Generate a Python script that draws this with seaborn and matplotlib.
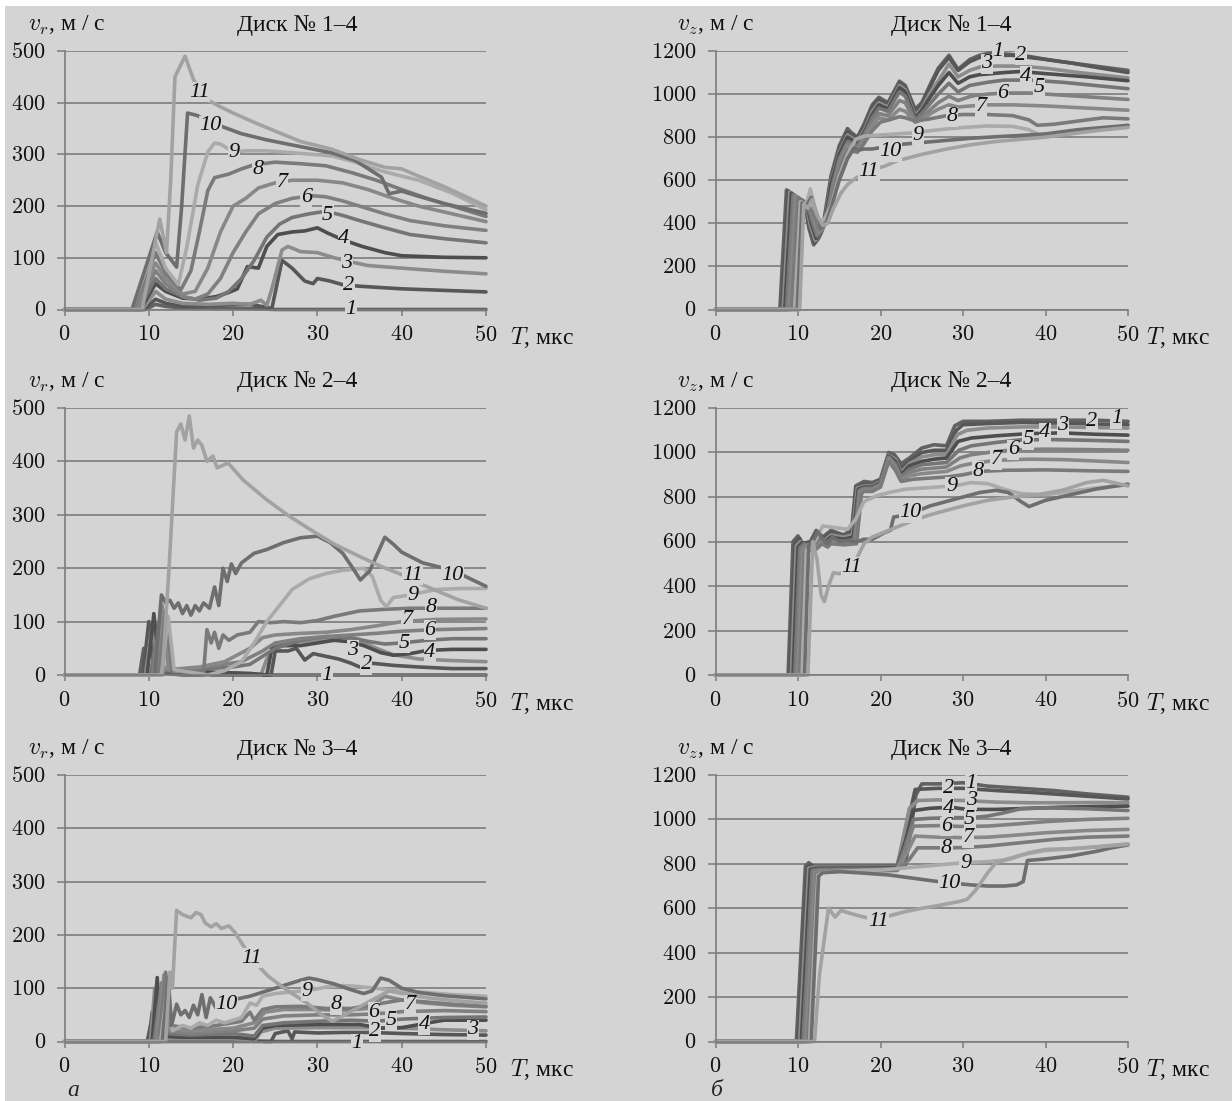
import pandas as pd
import seaborn as sns
import matplotlib
matplotlib.use('Agg')
import matplotlib.pyplot as plt
from matplotlib.patches import Rectangle
from matplotlib.ticker import FuncFormatter, MultipleLocator

sns.set_theme(style='white')
plt.rcParams['font.family'] = ['Liberation Serif', 'DejaVu Serif']
plt.rcParams['mathtext.fontset'] = 'cm'

#------------------------------------------------------------------------------
# Data: curve number -> (T, mks ; v, m/s) points
#------------------------------------------------------------------------------
# a) radial velocity, disk 1-4
vr_disk1 = {
    1: [(0, 0), (9.6, 0), (10.8, 10), (12, 6), (14, 3), (18, 2), (22, 2), (25, 0), (50, 0)],
    2: [(0, 0), (9.4, 0), (10.8, 20), (12, 12), (14, 6), (18, 8), (22, 10), (24, 4), (24.6, 2), (25.8, 95), (27, 80),
        (28.5, 55), (29.5, 50), (30, 60), (31.5, 55), (33, 48), (35, 45), (40, 40), (45, 37), (50, 34)],
    3: [(0, 0), (9.2, 0), (10.8, 35), (12, 20), (14, 12), (17, 10), (20, 12), (22, 10), (23.3, 18), (24, 8), (24.6, 40),
        (25.8, 115), (26.5, 122), (28, 112), (30, 110), (32, 100), (34, 92), (36, 85), (40, 80), (45, 74), (50, 69)],
    4: [(0, 0), (9.0, 0), (10.8, 50), (12, 35), (14, 22), (16, 20), (18, 25), (19.5, 33), (20.5, 40), (21.7, 83),
        (23, 80), (24, 122), (25.3, 145), (27, 150), (28.5, 152), (30, 158), (31.2, 148), (33, 135), (35.3, 122),
        (38, 110), (40, 104), (45, 101), (50, 100)],
    5: [(0, 0), (8.8, 0), (10.8, 60), (12, 40), (14, 25), (16, 18), (18, 22), (19.5, 35), (21, 60), (22.5, 95),
        (24, 140), (25.5, 165), (27, 178), (29, 185), (31, 190), (33, 182), (35, 172), (38, 158), (41, 145),
        (45, 137), (50, 129)],
    6: [(0, 0), (8.6, 0), (10.8, 75), (12, 50), (14, 25), (15.5, 20), (17, 30), (18.5, 60), (20, 110), (21.5, 150),
        (23, 185), (25, 205), (27, 215), (29.4, 220), (31, 218), (33, 210), (35, 200), (38, 185), (41, 172),
        (45, 162), (50, 153)],
    7: [(0, 0), (8.4, 0), (10.8, 90), (12, 60), (14, 30), (15.5, 35), (17, 80), (18.5, 150), (20, 200), (21.5, 215),
        (23, 235), (25, 245), (27, 250), (30, 250), (33, 245), (36, 232), (39, 215), (42, 200), (46, 185), (50, 170)],
    8: [(0, 0), (8.2, 0), (10.8, 110), (12, 70), (13.8, 38), (15, 75), (16, 150), (17, 230), (17.8, 255), (19.5, 262),
        (21, 272), (22.5, 280), (25, 285), (28, 282), (31, 278), (34, 265), (37, 250), (40, 232), (43, 215),
        (46, 200), (50, 180)],
    9: [(0, 0), (8.0, 0), (10.8, 130), (12, 80), (13.5, 48), (14.5, 120), (15.8, 240), (17, 305), (17.8, 322),
        (18.5, 320), (20, 305), (21.7, 307), (24, 307), (28, 302), (31.7, 297), (34.5, 285), (37.6, 268), (40, 258),
        (42, 250), (46, 225), (50, 193)],
    10: [(0, 0), (8.0, 0), (11, 150), (12, 110), (13.3, 82), (13.9, 200), (14.6, 380), (15.8, 375), (17, 362),
         (18.5, 355), (21, 340), (24, 328), (28, 315), (31.7, 303), (34.5, 288), (37.6, 256), (38.5, 224), (40, 229),
         (42, 219), (45, 205), (50, 186)],
    11: [(0, 0), (9.2, 0), (11.3, 175), (12.1, 110), (12.6, 250), (13.1, 450), (14.3, 490), (15.3, 445), (16, 425),
         (17, 405), (18.5, 392), (20, 380), (22.5, 362), (25, 345), (28, 325), (31.7, 310), (35, 290), (38, 275),
         (40, 272), (42, 258), (45, 238), (50, 200)],
}

# b) axial velocity, disk 1-4
vz_disk1 = {
    1: [(0, 0), (7.8, 0), (8.6, 555), (10, 520), (10.8, 500), (11.3, 380), (11.9, 300), (12.5, 330), (13, 380),
        (14, 620), (15, 760), (16, 840), (16.5, 820), (17.2, 800), (18, 860), (19, 950), (19.8, 985), (20.9, 960),
        (22.3, 1060), (23, 1040), (24.2, 930), (25, 960), (26.1, 1050), (27, 1120), (28.3, 1180), (29.4, 1115),
        (30.8, 1160), (32, 1180), (33.2, 1190), (35.5, 1185), (38, 1175), (40.2, 1160), (42, 1150), (45, 1135),
        (50, 1110)],
    2: [(0, 0), (8.0, 0), (8.8, 550), (10, 515), (10.9, 495), (11.4, 380), (12, 310), (12.6, 340), (13.1, 390),
        (14, 600), (15, 740), (16, 825), (16.5, 810), (17.2, 790), (18, 850), (19, 940), (19.8, 975), (20.9, 950),
        (22.3, 1050), (23, 1030), (24.2, 920), (25, 950), (26.1, 1040), (27, 1110), (28.3, 1170), (29.4, 1110),
        (30.8, 1150), (32, 1170), (34, 1180), (36, 1180), (38, 1170), (40.2, 1160), (43, 1145), (46, 1125),
        (50, 1100)],
    3: [(0, 0), (8.2, 0), (9.0, 545), (10, 510), (11, 490), (11.5, 390), (12.1, 320), (12.7, 350), (13.2, 400),
        (14, 590), (15, 730), (16, 810), (17.2, 780), (18, 830), (19, 920), (19.8, 960), (20.9, 940), (22.3, 1040),
        (23, 1020), (24.2, 900), (25, 935), (26.1, 1010), (27, 1060), (28.3, 1140), (29.4, 1080), (30.8, 1110),
        (32, 1125), (34, 1130), (37, 1130), (40, 1120), (44, 1100), (50, 1075)],
    4: [(0, 0), (8.4, 0), (9.2, 540), (10.2, 505), (11.1, 485), (11.6, 400), (12.2, 330), (12.8, 355), (13.3, 410),
        (14, 580), (15, 720), (16, 800), (17.2, 770), (18, 820), (19, 905), (19.8, 950), (20.9, 930), (22.3, 1030),
        (23, 1010), (24.2, 890), (25, 925), (26.1, 990), (27, 1040), (28.3, 1100), (29.4, 1050), (30.8, 1080),
        (32, 1090), (35, 1100), (37, 1105), (40, 1095), (45, 1080), (50, 1062)],
    5: [(0, 0), (8.6, 0), (9.4, 535), (10.3, 500), (11.2, 480), (11.7, 410), (12.3, 340), (12.9, 365), (13.4, 420),
        (14.2, 580), (15, 700), (16, 780), (17.2, 760), (18, 810), (19, 890), (19.8, 935), (20.9, 920), (22.3, 1010),
        (23, 990), (24.2, 880), (25, 910), (26.1, 960), (27, 1000), (28.3, 1050), (29.4, 1010), (30.8, 1040),
        (33, 1055), (35, 1065), (38, 1065), (42, 1055), (46, 1040), (50, 1025)],
    6: [(0, 0), (8.8, 0), (9.6, 530), (10.4, 500), (11.3, 480), (11.8, 420), (12.4, 350), (13, 375), (13.5, 430),
        (14.3, 580), (15, 690), (16, 770), (17.2, 750), (18, 800), (19, 870), (19.8, 910), (20.9, 900), (22.3, 970),
        (23, 960), (24.2, 870), (25, 890), (26.1, 930), (27, 960), (28.3, 990), (29.4, 970), (31, 990), (33, 1000),
        (35, 1005), (38, 1005), (42, 995), (46, 985), (50, 975)],
    7: [(0, 0), (9.0, 0), (9.8, 525), (10.5, 500), (11.4, 475), (11.9, 425), (12.5, 360), (13.1, 385), (13.6, 440),
        (14.4, 580), (15.2, 690), (16, 760), (17.2, 740), (18, 790), (19, 850), (19.8, 890), (20.9, 880), (22.3, 930),
        (23, 920), (24.2, 870), (25, 880), (26.1, 910), (27, 930), (28.3, 950), (29.4, 940), (31, 945), (33, 950),
        (36, 950), (40, 945), (45, 935), (50, 925)],
    8: [(0, 0), (9.2, 0), (10, 520), (10.6, 500), (11.5, 470), (12, 430), (12.6, 370), (13.2, 395), (13.7, 450),
        (14.5, 580), (15.3, 680), (16, 740), (17.2, 730), (18, 770), (19, 830), (20, 870), (21, 880), (22.3, 895),
        (23, 890), (24.2, 875), (26, 885), (28, 900), (30, 905), (33, 905), (36, 900), (38, 880), (39, 855),
        (41, 860), (44, 875), (47, 890), (50, 885)],
    9: [(0, 0), (9.6, 0), (10.3, 500), (11, 490), (11.5, 560), (12, 480), (12.6, 400), (13.2, 420), (14, 480),
        (15, 620), (16, 720), (17, 790), (18, 805), (20, 810), (22, 815), (24, 820), (26, 830), (28, 838), (30, 845),
        (33, 852), (36, 850), (38, 835), (39.5, 805), (42, 815), (46, 830), (50, 855)],
    10: [(0, 0), (9.9, 0), (10.5, 495), (11, 480), (11.6, 520), (12.2, 450), (12.8, 380), (13.4, 400), (14, 470),
         (15, 600), (16, 700), (16.8, 750), (17.3, 740), (18, 745), (19, 745), (20.5, 755), (22, 765), (25, 775),
         (28, 785), (31, 795), (34, 802), (37, 808), (40, 815), (44, 835), (47, 845), (50, 855)],
    11: [(0, 0), (10.2, 0), (10.7, 490), (11.2, 470), (11.7, 510), (12.3, 440), (13, 390), (13.6, 400), (14.3, 470),
         (15.2, 540), (16, 580), (17, 610), (18, 630), (19, 650), (20.5, 665), (22, 690), (25, 720), (28, 745),
         (31, 765), (34, 780), (37, 790), (40, 800), (43, 815), (46, 830), (50, 845)],
}

# a) radial velocity, disk 2-4
vr_disk2 = {
    1: [(0, 0), (8.9, 0), (9.4, 50), (9.9, 5), (12, 3), (14, 0), (50, 0)],
    2: [(0, 0), (9.3, 0), (10, 100), (10.6, 10), (13, 10), (16, 5), (20, 3), (24.5, 0), (25, 45), (26.5, 45),
        (27.5, 50), (28.5, 28), (29.5, 40), (31, 35), (32.5, 30), (34, 22), (35, 15), (36.5, 22), (39, 18), (42, 15),
        (46, 12), (50, 12)],
    3: [(0, 0), (9.6, 0), (10.4, 90), (11, 15), (13, 10), (16, 5), (20, 3), (23.3, 0), (24, 30), (25, 58), (28, 62),
        (31, 68), (33, 70), (35, 65), (37, 50), (39, 38), (42, 30), (46, 27), (50, 25)],
    4: [(0, 0), (9.8, 0), (10.6, 115), (11.3, 10), (14, 8), (18, 5), (22, 3), (24, 0), (24.6, 50), (26, 55), (28, 55),
        (30, 60), (32, 65), (34, 62), (35.5, 55), (37.5, 42), (39, 37), (41, 40), (43, 46), (46, 48), (50, 48)],
    5: [(0, 0), (10.2, 0), (10.8, 60), (11.4, 8), (15, 10), (20, 15), (22, 20), (23.5, 35), (25, 50), (28, 65),
        (31, 72), (34, 70), (36, 63), (38, 58), (40, 60), (43, 65), (46, 68), (50, 68)],
    6: [(0, 0), (10.5, 0), (11.2, 95), (11.8, 10), (15, 12), (18, 18), (21, 25), (23.5, 45), (25, 60), (28, 68),
        (31, 72), (34, 75), (37, 78), (40, 82), (44, 85), (50, 87)],
    7: [(0, 0), (10.8, 0), (11.6, 130), (12.3, 10), (16, 15), (19, 25), (22, 50), (23.5, 70), (25, 75), (28, 78),
        (31, 80), (34, 85), (37, 92), (40, 100), (44, 104), (50, 105)],
    8: [(0, 0), (11.2, 0), (12, 120), (12.7, 10), (16.5, 5), (16.9, 85), (17.4, 60), (17.8, 80), (18.3, 50),
        (18.8, 75), (19.5, 65), (20.5, 75), (22, 80), (23, 100), (24.5, 98), (26, 100), (28, 98), (30, 102),
        (32, 110), (35, 120), (38, 123), (41, 125), (45, 125), (50, 125)],
    9: [(0, 0), (11.5, 0), (12.3, 110), (13, 10), (17, 0), (19, 8), (21, 25), (22.5, 60), (24, 100), (25.5, 130),
        (27, 160), (29, 180), (31, 190), (33, 196), (35.5, 200), (36.5, 185), (37.5, 140), (38.2, 128), (39, 145),
        (41, 150), (44, 160), (47, 162), (50, 162)],
    10: [(0, 0), (10.7, 0), (11.5, 150), (12, 135), (12.5, 140), (13, 125), (13.5, 135), (14, 115), (14.5, 130),
         (15, 112), (15.5, 130), (16, 120), (16.5, 135), (17.2, 125), (17.8, 165), (18.3, 130), (18.8, 200),
         (19.3, 175), (19.8, 208), (20.3, 190), (21, 210), (22.5, 228), (24, 235), (26, 248), (28, 257), (30, 260),
         (31.5, 248), (33, 228), (34.2, 200), (35.1, 178), (36.2, 195), (38, 258), (39, 245), (40, 230),
         (42.5, 210), (45, 200), (47.5, 185), (50, 166)],
    11: [(0, 0), (11.6, 0), (12.4, 200), (13.3, 455), (13.8, 470), (14.3, 440), (14.8, 485), (15.3, 425),
         (15.8, 440), (16.3, 430), (16.9, 400), (17.6, 410), (18.1, 388), (19.4, 397), (21.2, 365), (24, 328),
         (26.7, 297), (29.4, 270), (32, 245), (35, 222), (37.6, 203), (40, 188), (42.6, 168), (46.7, 141),
         (50, 125)],
}

# b) axial velocity, disk 2-4
vz_disk2 = {
    1: [(0, 0), (8.8, 0), (9.4, 600), (10, 625), (10.4, 590), (11.5, 600), (12.2, 650), (13, 620), (14, 650),
        (15.5, 630), (16.5, 650), (17, 850), (18, 870), (19, 865), (20, 880), (21, 1000), (21.7, 990), (22.5, 950),
        (23.5, 975), (25, 1020), (26.5, 1035), (28, 1030), (29, 1120), (30, 1140), (33, 1140), (37, 1145),
        (42, 1145), (46, 1145), (50, 1140)],
    2: [(0, 0), (9.0, 0), (9.6, 590), (10.2, 615), (10.6, 585), (11.6, 595), (12.3, 640), (13, 610), (14, 640),
        (15.5, 625), (16.5, 640), (17.1, 845), (18, 860), (19, 855), (20, 875), (21, 995), (21.7, 980), (22.5, 930),
        (23.5, 960), (25, 1000), (26.5, 1010), (28, 1010), (29.2, 1100), (30, 1125), (33, 1130), (37, 1135),
        (42, 1132), (46, 1128), (50, 1125)],
    3: [(0, 0), (9.2, 0), (9.8, 580), (10.3, 600), (10.8, 580), (11.7, 590), (12.4, 630), (13.1, 600), (14, 630),
        (15.5, 620), (16.6, 630), (17.2, 840), (18, 850), (19, 850), (20, 870), (21, 990), (21.8, 970), (22.5, 910),
        (23.5, 950), (25, 980), (26.5, 990), (28, 990), (29.3, 1080), (30.5, 1100), (33, 1110), (37, 1115),
        (42, 1115), (46, 1112), (50, 1110)],
    4: [(0, 0), (9.4, 0), (10, 575), (10.5, 595), (11, 575), (11.8, 585), (12.5, 620), (13.2, 595), (14, 620),
        (15.5, 610), (16.7, 620), (17.3, 835), (18, 845), (19, 845), (20, 865), (21, 985), (21.8, 960), (22.5, 900),
        (23.5, 940), (25, 960), (26.5, 970), (28, 975), (29.4, 1050), (31, 1065), (34, 1075), (38, 1085),
        (42, 1088), (46, 1082), (50, 1078)],
    5: [(0, 0), (9.6, 0), (10.2, 570), (10.7, 590), (11.2, 570), (11.9, 580), (12.6, 610), (13.3, 590), (14, 610),
        (15.5, 600), (16.8, 610), (17.4, 830), (18, 840), (19, 840), (20, 860), (21, 980), (21.8, 950), (22.5, 890),
        (23.5, 925), (25, 945), (26.5, 950), (28, 955), (29.5, 1010), (31, 1030), (34, 1045), (37, 1057),
        (41, 1058), (45, 1055), (50, 1050)],
    6: [(0, 0), (9.8, 0), (10.4, 565), (10.9, 585), (11.4, 565), (12, 575), (12.7, 600), (13.4, 585), (14, 600),
        (15.5, 595), (16.9, 600), (17.5, 825), (18, 835), (19, 835), (20, 855), (21, 975), (21.8, 940), (22.5, 880),
        (23.5, 910), (25, 925), (26.5, 930), (28, 935), (29.6, 975), (31, 990), (33, 1000), (36, 1012), (40, 1015),
        (45, 1013), (50, 1010)],
    7: [(0, 0), (10.0, 0), (10.6, 560), (11.1, 580), (11.6, 560), (12.1, 570), (12.8, 595), (13.5, 580), (14, 595),
        (15.5, 590), (17.0, 595), (17.6, 820), (18, 830), (19, 830), (20, 850), (21, 970), (21.8, 930), (22.5, 875),
        (23.5, 895), (25, 905), (26.5, 910), (28, 915), (29.7, 940), (31, 950), (34, 965), (38, 970), (42, 968),
        (46, 962), (50, 955)],
    8: [(0, 0), (10.2, 0), (10.8, 555), (11.3, 575), (11.8, 555), (12.2, 565), (12.9, 590), (13.6, 575), (14, 590),
        (15.5, 585), (17.1, 590), (17.7, 815), (18, 825), (19, 825), (20, 845), (21, 960), (21.8, 920), (22.5, 870),
        (24, 880), (26, 885), (28, 890), (30, 900), (32, 915), (35, 920), (40, 922), (45, 918), (50, 915)],
    9: [(0, 0), (10.5, 0), (11, 560), (11.6, 580), (12.2, 610), (13, 670), (14, 665), (15, 660), (16, 655),
        (17, 700), (18, 780), (19.5, 805), (21, 820), (23, 835), (25, 840), (27, 845), (29, 850), (31, 865),
        (33, 860), (35, 835), (37, 815), (40, 810), (43, 825), (46, 840), (50, 855)],
    10: [(0, 0), (10.8, 0), (11.3, 580), (11.8, 600), (12.4, 645), (13, 610), (13.6, 590), (14.2, 620), (15, 600),
         (16, 605), (17, 598), (18, 610), (19, 610), (20.5, 640), (21.2, 650), (21.6, 710), (22.5, 715), (24, 730),
         (26, 760), (28, 780), (30, 800), (32, 820), (34, 830), (35.5, 820), (37, 780), (38, 757), (40, 785),
         (43, 810), (46, 835), (50, 858)],
    11: [(0, 0), (11.2, 0), (11.8, 600), (12.3, 520), (12.8, 360), (13.2, 330), (13.7, 400), (14.3, 460),
         (15, 455), (15.8, 470), (16.6, 480), (17.2, 530), (18, 590), (19, 620), (20, 635), (22, 665), (24, 695),
         (26, 720), (28, 740), (30, 760), (33, 785), (36, 800), (39, 810), (42, 830), (45, 865), (47, 875),
         (50, 850)],
}

# a) radial velocity, disk 3-4
vr_disk3 = {
    1: [(0, 0), (9.8, 0), (10.2, 30), (10.6, 0), (50, 0)],
    2: [(0, 0), (10.0, 0), (10.4, 55), (10.8, 5), (13, 3), (20, 2), (24.5, 0), (25, 15), (26.5, 20), (27, 5),
        (27.3, 18), (30, 16), (33, 17), (36, 17), (40, 15), (45, 13), (50, 12)],
    3: [(0, 0), (10.2, 0), (10.7, 100), (11.1, 5), (14, 5), (20, 5), (22.5, 0), (23.3, 18), (25, 25), (30, 26),
        (35, 26), (40, 25), (45, 22), (50, 20)],
    4: [(0, 0), (10.4, 0), (11.0, 120), (11.4, 10), (14, 8), (20, 8), (22.5, 5), (23.5, 25), (25, 30), (30, 32),
        (35, 32), (37.5, 25), (40, 26), (42.5, 33), (45, 40), (50, 40)],
    5: [(0, 0), (10.6, 0), (11.3, 80), (11.7, 15), (15, 12), (20, 15), (22.5, 10), (23.5, 30), (26, 35), (30, 38),
        (34, 40), (37, 38), (40, 42), (45, 45), (50, 46)],
    6: [(0, 0), (10.8, 0), (11.5, 110), (11.9, 20), (15, 15), (20, 20), (22.5, 25), (23.5, 42), (26, 48), (30, 50),
        (34, 50), (37, 52), (40, 56), (45, 58), (50, 56)],
    7: [(0, 0), (11.0, 0), (11.8, 125), (12.2, 25), (15, 20), (20, 25), (22.5, 35), (23.8, 55), (26, 60), (30, 60),
        (33, 58), (36, 62), (38, 85), (40, 78), (43, 72), (46, 68), (50, 65)],
    8: [(0, 0), (11.2, 0), (12.0, 130), (12.5, 30), (15, 25), (18, 30), (21, 38), (22, 55), (22.5, 40), (23.5, 60),
        (25, 65), (28, 66), (31, 62), (34, 62), (37, 70), (40, 78), (43, 74), (46, 70), (50, 66)],
    9: [(0, 0), (11.4, 0), (12.2, 100), (12.8, 20), (14, 30), (15, 25), (16, 35), (17, 30), (18, 40), (19, 35),
        (20, 40), (21, 45), (22, 72), (22.8, 68), (23.5, 85), (25, 90), (27, 93), (29, 96), (31, 102), (33, 105),
        (35, 103), (38, 98), (40, 95), (43, 92), (46, 88), (50, 85)],
    10: [(0, 0), (11.6, 0), (12.3, 120), (12.7, 30), (13.3, 70), (13.8, 50), (14.3, 58), (14.8, 45), (15.3, 68),
         (15.8, 50), (16.3, 88), (16.8, 45), (17.3, 82), (18, 62), (19.3, 72), (20.5, 80), (22, 85), (24, 95),
         (26, 105), (28, 115), (29, 119), (30, 116), (32, 108), (34, 97), (35.5, 90), (36.5, 95), (37.5, 119),
         (38.5, 115), (40, 100), (42, 92), (45, 86), (50, 80)],
    11: [(0, 0), (12.0, 0), (12.5, 130), (12.8, 100), (13.3, 246), (14, 238), (15, 232), (15.6, 242), (16.2, 238),
         (16.7, 222), (17.4, 215), (18, 221), (18.6, 212), (19.5, 217), (20.2, 205), (21, 185), (22.2, 155),
         (24.2, 122), (26.5, 95), (28.8, 72), (30.5, 50), (31.8, 38), (33, 48), (35, 65), (37, 82), (38.5, 95),
         (40, 90), (43, 82), (46, 77), (50, 72)],
}

# b) axial velocity, disk 3-4
vz_disk3 = {
    1: [(0, 0), (9.8, 0), (10.9, 790), (11.3, 805), (11.8, 790), (15, 790), (20, 790), (23, 790), (24.3, 1110),
        (25, 1160), (27, 1160), (30, 1165), (33, 1150), (37, 1140), (41, 1130), (45, 1115), (50, 1100)],
    2: [(0, 0), (10.0, 0), (11.1, 785), (11.6, 795), (12, 785), (22, 788), (23.4, 1000), (24.2, 1135), (27, 1140),
        (30, 1140), (34, 1130), (38, 1122), (42, 1112), (46, 1102), (50, 1092)],
    3: [(0, 0), (10.2, 0), (11.3, 780), (12, 785), (22, 785), (23.5, 1050), (24.5, 1085), (27, 1088), (30, 1085),
        (34, 1078), (38, 1075), (42, 1075), (46, 1076), (50, 1075)],
    4: [(0, 0), (10.4, 0), (11.5, 775), (12.2, 780), (22, 782), (23, 900), (24, 1040), (26, 1050), (28.5, 1055),
        (30.5, 1045), (34, 1045), (38, 1050), (42, 1055), (46, 1058), (50, 1060)],
    5: [(0, 0), (10.6, 0), (11.7, 770), (12.4, 775), (22, 778), (23, 880), (24, 1000), (26, 1005), (29, 1008),
        (31, 1008), (33, 1015), (35, 1030), (37, 1048), (40, 1052), (45, 1048), (50, 1040)],
    6: [(0, 0), (10.8, 0), (11.9, 765), (12.6, 770), (22, 775), (23, 860), (24, 970), (27, 972), (30, 968),
        (33, 970), (36, 978), (40, 990), (45, 1000), (50, 1005)],
    7: [(0, 0), (11.0, 0), (12.1, 760), (12.8, 768), (22, 772), (23.2, 850), (24.2, 925), (27, 920), (30, 918),
        (33, 920), (36, 928), (40, 940), (45, 950), (50, 955)],
    8: [(0, 0), (11.2, 0), (12.3, 755), (13, 765), (22, 770), (23.5, 820), (24.5, 872), (27, 872), (30, 873),
        (33, 880), (37, 895), (41, 910), (45, 920), (50, 925)],
    9: [(0, 0), (11.4, 0), (12.4, 750), (13, 762), (16, 768), (20, 772), (24, 785), (27, 795), (30, 805), (33, 810),
        (35, 818), (37, 840), (40, 860), (44, 870), (47, 880), (50, 890)],
    10: [(0, 0), (11.6, 0), (12.5, 745), (13, 760), (15, 765), (18, 758), (21, 750), (24, 735), (27, 720),
         (29, 712), (31, 705), (33, 700), (35, 700), (36.5, 705), (37.3, 720), (37.8, 815), (40, 822), (43, 835),
         (46, 855), (48, 872), (50, 885)],
    11: [(0, 0), (12.0, 0), (12.6, 300), (13.7, 600), (14.5, 560), (15.2, 590), (16.5, 575), (18, 560),
         (19.5, 550), (21, 565), (23, 585), (25, 600), (27, 612), (29.5, 630), (30.5, 640), (31.5, 680), (33, 760),
         (34, 805), (36, 825), (38, 850), (40, 865), (43, 868), (46, 875), (50, 888)],
}

# curve number labels (T, v) where the numbers sit
lab_vr1 = {1: (34, 0), 2: (33.7, 47), 3: (33.5, 89), 4: (33.1, 138), 5: (31.2, 182), 6: (28.7, 216),
           7: (25.8, 245), 8: (23, 271), 9: (20.1, 303), 10: (17.3, 355), 11: (16, 420)}
lab_vz1 = {1: (34.2, 1200), 2: (37.0, 1180), 3: (32.9, 1140), 4: (37.6, 1082), 5: (39.2, 1030), 6: (34.8, 1003),
           7: (32.2, 941), 8: (28.7, 895), 9: (24.5, 810), 10: (21.2, 732), 11: (18.6, 640)}
lab_vr2 = {1: (31.1, 0), 2: (35.8, 19), 3: (34.2, 46), 4: (43.3, 42), 5: (40.3, 59), 6: (43.3, 84),
           7: (40.6, 104), 8: (43.5, 127), 9: (41.3, 148), 10: (46, 187), 11: (41.3, 187)}
lab_vz2 = {1: (48.6, 1152), 2: (45.6, 1138), 3: (42.1, 1120), 4: (39.9, 1090), 5: (37.9, 1058), 6: (36.1, 1012),
           7: (34, 967), 8: (31.8, 915), 9: (28.6, 847), 10: (23.6, 730), 11: (16.5, 485)}
lab_vr3 = {1: (34.7, -4), 2: (36.8, 18), 3: (48.4, 22), 4: (42.7, 31), 5: (38.7, 40), 6: (36.7, 55),
           7: (41, 69), 8: (32.2, 69), 9: (28.8, 94), 10: (19.2, 70), 11: (22.2, 156)}
lab_vz3 = {1: (31, 1162), 2: (28.2, 1138), 3: (31, 1085), 4: (28.2, 1050), 5: (30.8, 1000), 6: (28, 968),
           7: (30.6, 918), 8: (28, 868), 9: (30.3, 802), 10: (28.4, 712), 11: (19.7, 541)}

#------------------------------------------------------------------------------
# Style
#------------------------------------------------------------------------------
BG = '#d4d4d4'
GRID = '#7c7c7c'
grays = {1: '#626262', 2: '#575757', 3: '#8c8c8c', 4: '#4e4e4e', 5: '#757575', 6: '#808080',
         7: '#888888', 8: '#7a7a7a', 9: '#aaaaaa', 10: '#6e6e6e', 11: '#a2a2a2'}

W, H = 1232, 1101
fig = plt.figure(figsize=(W / 100, H / 100), dpi=100, facecolor='white')
fig.patches.append(Rectangle((5 / W, 0), 1, 1 - 6 / H, transform=fig.transFigure,
                             fc=BG, ec='none', zorder=-10))

cols = [(64.5, 486), (715.5, 1128)]         # px left/right of the plot area
rows = [(51, 309.5), (408, 675), (775, 1041.5)]  # px top/bottom

panels = [
    (0, 0, vr_disk1, lab_vr1, 'r', 500, 100, '1'),
    (0, 1, vz_disk1, lab_vz1, 'z', 1200, 200, '1'),
    (1, 0, vr_disk2, lab_vr2, 'r', 500, 100, '2'),
    (1, 1, vz_disk2, lab_vz2, 'z', 1200, 200, '2'),
    (2, 0, vr_disk3, lab_vr3, 'r', 500, 100, '3'),
    (2, 1, vz_disk3, lab_vz3, 'z', 1200, 200, '3'),
]

title_x = [297, 951]
ylab_x = [28, 677]
xlab_x = [510, 1146]

for r, c, curves, labels, comp, ymax, ystep, disk in panels:
    x0, x1 = cols[c]
    y0, y1 = rows[r]
    wpx, hpx = x1 - x0, y1 - y0
    ax = fig.add_axes([x0 / W, 1 - y1 / H, wpx / W, hpx / H])
    ax.patch.set_alpha(0)

    df = pd.DataFrame([(k, t, v) for k, pts in curves.items() for t, v in pts],
                      columns=['curve', 't', 'v'])
    sns.lineplot(data=df, x='t', y='v', hue='curve', palette=grays, estimator=None,
                 sort=False, legend=False, lw=2.6, ax=ax)
    for ln in ax.lines:
        ln.set_clip_on(False)
        ln.set_solid_joinstyle('round')

    ax.set_xlim(0, 50)
    ax.set_ylim(0, ymax)
    ax.xaxis.set_major_locator(MultipleLocator(10))
    ax.yaxis.set_major_locator(MultipleLocator(ystep))
    fmt = FuncFormatter(lambda x, p: r'$%d$' % round(x))
    ax.xaxis.set_major_formatter(fmt)
    ax.yaxis.set_major_formatter(fmt)
    ax.set_xlabel('')
    ax.set_ylabel('')

    ax.grid(axis='y', color=GRID, lw=1.2)
    ax.grid(axis='x', visible=False)
    ax.set_axisbelow(True)
    for s in ['top', 'right']:
        ax.spines[s].set_visible(False)
    for s in ['left', 'bottom']:
        ax.spines[s].set_color(GRID)
        ax.spines[s].set_linewidth(1.2)
    ax.tick_params(axis='y', direction='out', length=5.5, width=1.1, color=GRID, pad=8,
                   labelsize=16, labelcolor='#111111', left=True)
    ax.tick_params(axis='x', direction='out', length=4, width=1.1, color=GRID, pad=8,
                   labelsize=16, labelcolor='#111111', bottom=True)

    # curve numbers
    for k, (t, v) in labels.items():
        ax.text(t, v, str(k), style='italic', fontsize=16, ha='center', va='center', color='#111111',
                zorder=6, clip_on=False,
                bbox=dict(boxstyle='square,pad=0.02', fc=BG, ec='none'))

    # titles and axis captions
    ty = 1 + 26 / hpx
    ax.text((title_x[c] - x0) / wpx, ty, 'Диск № %s–4' % disk, transform=ax.transAxes,
            ha='center', va='center', fontsize=17, color='#111111')
    ax.text((ylab_x[c] - x0) / wpx, ty, r'$v_%s$, м / с' % comp, transform=ax.transAxes,
            ha='left', va='center', fontsize=17, color='#111111')
    ax.text((xlab_x[c] - x0) / wpx, -28 / hpx, r'$T$, мкс', transform=ax.transAxes,
            ha='left', va='center', fontsize=17, color='#111111')

fig.text(73 / W, 1 - 1090 / H, 'а', style='italic', fontsize=17, ha='center', va='center')
fig.text(717 / W, 1 - 1090 / H, 'б', style='italic', fontsize=17, ha='center', va='center')

fig.savefig('out.png', dpi=100, facecolor=fig.get_facecolor())
